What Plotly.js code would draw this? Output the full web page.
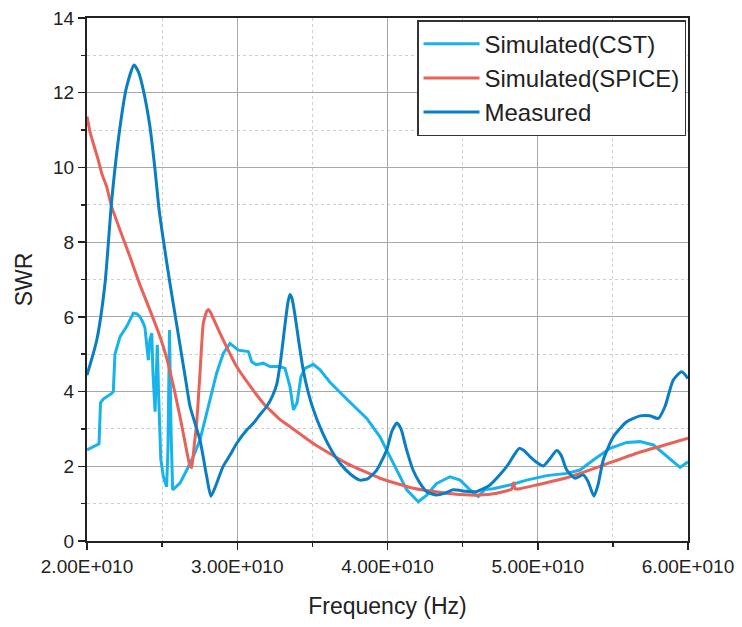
<!DOCTYPE html>
<html>
<head>
<meta charset="utf-8">
<script src="https://cdn.plot.ly/plotly-3.0.1.min.js"></script>
<style>html,body{margin:0;padding:0;background:#fff;}#chart{width:742px;height:627px;}</style>
</head>
<body>
<div id="chart"></div>
<script>
// Frequency in GHz (axis labels show Hz)
var cstFreq = [20.00,20.20,20.65,20.80,20.90,21.08,21.64,21.75,21.86,22.20,22.64,22.93,23.08,23.33,23.53,23.75,23.86,24.08,24.19,24.31,24.39,24.53,24.63,24.68,24.76,24.91,25.08,25.30,25.39,25.49,25.59,25.70,25.92,26.19,26.64,27.07,27.52,27.97,28.41,28.63,29.07,29.52,30.07,30.74,30.96,31.25,31.73,32.18,32.84,33.18,33.51,33.74,33.98,34.24,34.51,35.06,35.51,36.17,37.28,38.62,39.50,40.39,41.28,42.05,42.61,43.27,44.16,44.83,45.49,46.04,46.49,47.02,48.15,49.26,50.60,51.93,52.81,53.70,54.81,55.92,56.81,57.70,58.58,59.47,60.00];
var cstSWR = [2.44,2.48,2.57,2.60,3.70,3.80,3.95,4.00,5.00,5.47,5.74,6.00,6.10,6.08,6.00,5.83,5.70,4.84,5.40,5.56,4.50,3.46,5.00,5.25,4.00,2.20,1.72,1.45,2.50,5.65,3.00,1.37,1.45,1.55,1.90,2.26,2.70,3.40,4.10,4.50,5.02,5.29,5.11,5.07,4.80,4.72,4.76,4.67,4.67,4.62,4.13,3.51,3.70,4.40,4.62,4.73,4.58,4.25,3.80,3.28,2.79,2.08,1.37,1.05,1.23,1.54,1.72,1.63,1.37,1.19,1.38,1.40,1.50,1.63,1.75,1.81,1.90,2.17,2.48,2.64,2.66,2.57,2.26,1.97,2.12];

var spiceFreq = [20.00,20.20,20.42,20.75,20.98,21.31,21.64,22.20,22.86,23.53,24.19,24.86,25.30,25.86,26.19,26.52,26.86,26.97,27.12,27.30,27.52,27.74,27.97,28.09,28.25,28.41,29.07,29.96,30.85,31.73,32.85,33.51,35.06,37.28,39.50,41.72,43.94,45.49,46.16,47.15,48.15,48.29,48.39,48.49,48.82,49.93,52.15,54.36,56.58,58.80,60.00];
var spiceSWR = [11.36,10.95,10.64,10.20,9.84,9.48,8.95,8.32,7.61,6.85,6.18,5.47,4.90,3.95,3.33,2.65,2.00,1.97,2.50,3.15,4.50,5.83,6.15,6.20,6.10,5.95,5.38,4.67,4.15,3.69,3.25,3.06,2.61,2.08,1.68,1.41,1.28,1.23,1.23,1.27,1.37,1.40,1.56,1.40,1.40,1.50,1.72,2.03,2.35,2.61,2.75];

var measFreq = [20.00,20.65,21.20,21.64,22.20,22.64,23.13,23.43,23.75,24.19,24.53,24.79,25.08,25.52,26.06,26.64,26.86,27.52,27.97,28.25,28.59,29.05,29.52,29.96,30.63,31.07,31.51,31.96,32.31,32.63,32.91,33.18,33.38,33.51,33.64,33.84,34.11,34.38,34.71,35.04,35.51,36.17,36.84,37.50,38.17,38.70,39.28,39.95,40.30,40.63,40.90,41.23,41.70,42.16,42.61,43.27,43.83,44.36,45.22,45.89,46.82,47.93,48.42,48.77,49.08,49.48,49.95,50.37,50.81,51.26,51.55,51.93,52.48,53.03,53.34,53.74,54.01,54.36,55.03,55.92,56.81,57.47,58.03,58.47,59.02,59.58,60.00];
var measSWR = [4.44,5.38,6.90,9.10,11.09,12.16,12.74,12.55,12.07,11.09,9.93,8.90,8.06,6.90,5.57,4.13,3.60,2.70,1.72,1.20,1.50,1.99,2.30,2.61,2.97,3.15,3.38,3.60,3.85,4.20,4.90,5.80,6.40,6.60,6.50,6.05,5.30,4.60,4.00,3.55,3.05,2.50,2.08,1.80,1.63,1.67,1.90,2.44,2.95,3.16,3.00,2.50,1.90,1.55,1.32,1.23,1.28,1.37,1.33,1.32,1.50,1.99,2.30,2.48,2.42,2.26,2.10,2.01,2.20,2.42,2.30,1.90,1.68,1.77,1.60,1.20,1.50,2.17,2.79,3.19,3.35,3.35,3.28,3.60,4.31,4.53,4.35];

var xTickVals = [20,30,40,50,60];
var xTickText = ['2.00E+010','3.00E+010','4.00E+010','5.00E+010','6.00E+010'];
var seriesNames = ['Simulated(CST)','Simulated(SPICE)','Measured'];

var FONT = 'Liberation Sans, Arial, Helvetica, sans-serif';
var traces = [
  {x: cstFreq, y: cstSWR, name: seriesNames[0], mode: 'lines', line: {color: '#17B3EA', width: 3}},
  {x: spiceFreq, y: spiceSWR, name: seriesNames[1], mode: 'lines', line: {color: '#E8625A', width: 3, shape: 'spline', smoothing: 0.4}},
  {x: measFreq, y: measSWR, name: seriesNames[2], mode: 'lines', line: {color: '#0A7EC2', width: 3, shape: 'spline', smoothing: 0.6}}
];

var axisCommon = {
  showline: true, linewidth: 2, linecolor: '#222', mirror: true,
  ticks: 'outside', ticklen: 7, tickwidth: 1.5, tickcolor: '#222',
  showgrid: true, gridcolor: '#A8A8A8', gridwidth: 1,
  zeroline: false,
  tickfont: {family: FONT, size: 19, color: '#222'}
};

var layout = {
  width: 742, height: 627,
  margin: {l: 87, r: 54, t: 18, b: 86},
  paper_bgcolor: '#fff', plot_bgcolor: '#fff',
  font: {family: FONT, color: '#222'},
  showlegend: true,
  legend: {
    x: 0.9967, xanchor: 'right', y: 0.996, yanchor: 'top',
    bgcolor: '#fff', bordercolor: '#333', borderwidth: 1.5,
    font: {family: FONT, size: 24, color: '#222'},
    itemwidth: 56,
    tracegroupgap: 0
  },
  xaxis: Object.assign({}, axisCommon, {
    range: [20, 60], tickmode: 'array', tickvals: xTickVals, ticktext: xTickText,
    minor: {dtick: 5, ticks: 'outside', ticklen: 4, tickcolor: '#222', showgrid: true, gridcolor: '#CFCFCF', griddash: 'dot', gridwidth: 1},
    title: {text: 'Frequency (Hz)', font: {family: FONT, size: 23, color: '#222'}, standoff: 22}
  }),
  yaxis: Object.assign({}, axisCommon, {
    range: [0, 14], dtick: 2, tick0: 0,
    minor: {dtick: 1, ticks: 'outside', ticklen: 4, tickcolor: '#222', showgrid: true, gridcolor: '#CFCFCF', griddash: 'dot', gridwidth: 1},
    title: {text: 'SWR', font: {family: FONT, size: 23, color: '#222'}, standoff: 14}
  })
};

Plotly.newPlot('chart', traces, layout, {displayModeBar: false, staticPlot: true});
</script>
</body>
</html>
